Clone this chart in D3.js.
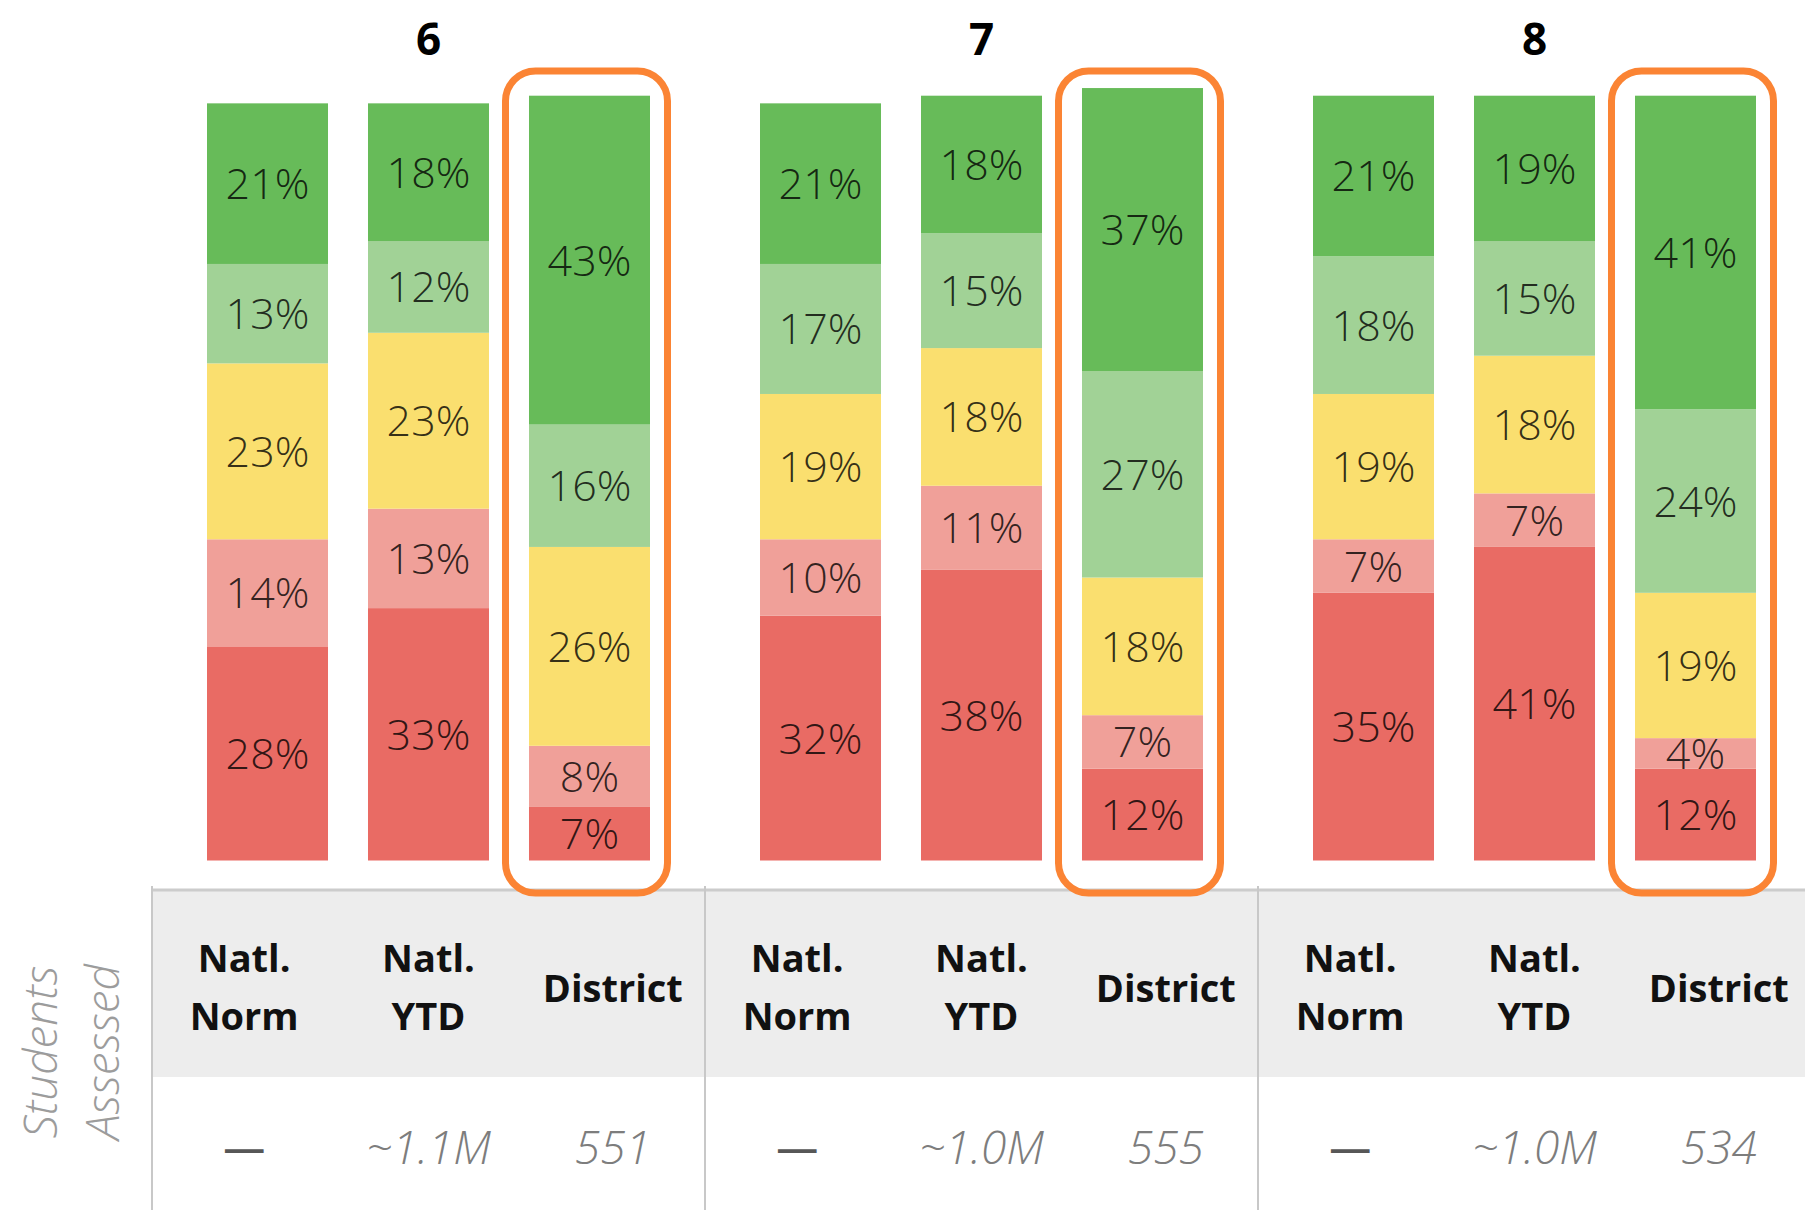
<!DOCTYPE html>
<html>
<head>
<meta charset="utf-8">
<script src="https://cdn.jsdelivr.net/npm/d3@7"></script>
<style>
  html, body { margin: 0; padding: 0; background: #fff; }
  svg { display: block; }
</style>
</head>
<body>
<svg id="chart" width="1805" height="1210"></svg>
<script>
// Grade levels and the three comparison bars inside each grade
const grades = ["6", "7", "8"];
const groups = ["Natl. Norm", "Natl. YTD", "District"];

// Percent of students in each achievement band, per bar
// (order: grade 6 Norm, YTD, District, grade 7 ..., grade 8 ...)
const low   = [28, 33, 7,  32, 38, 12,  35, 41, 12];
const loAvg = [14, 13, 8,  10, 11, 7,   7, 7, 4];
const avg   = [23, 23, 26, 19, 18, 18,  19, 18, 19];
const hiAvg = [13, 12, 16, 17, 15, 27,  18, 15, 24];
const high  = [21, 18, 43, 21, 18, 37,  21, 19, 41];

// Students assessed, per bar
const assessed = ["—", "~1.1M", "551", "—", "~1.0M", "555", "—", "~1.0M", "534"];

const bandKeys = ["low", "loAvg", "avg", "hiAvg", "high"];
const bandColors = ["#e96b64", "#f0a099", "#fadf6f", "#a1d296", "#67bb59"];

const rows = [];
grades.forEach((g, gi) => {
  groups.forEach((grp, bi) => {
    const i = gi * groups.length + bi;
    rows.push({
      grade: g, group: grp, n: assessed[i],
      low: low[i], loAvg: loAvg[i], avg: avg[i], hiAvg: hiAvg[i], high: high[i]
    });
  });
});

const svg = d3.select("#chart");
const W = 1805, H = 1210;
svg.append("rect").attr("width", W).attr("height", H).attr("fill", "#fff");

const tableLeft = 152, groupW = 553;
const x0 = d3.scaleBand().domain(grades).range([tableLeft, tableLeft + groupW * grades.length]);
const xBar = d3.scaleBand().domain(groups).range([55, 498]).paddingInner(0.2484);
const xCol = d3.scaleBand().domain(groups).range([0, groupW]);
const y = d3.scaleLinear().domain([0, 100]).range([860.5, 95.7]);
const color = d3.scaleOrdinal().domain(bandKeys).range(bandColors);

const stack = d3.stack().keys(bandKeys);
const series = stack(rows);

// ---- table area (drawn first so bars / boxes sit on top) ----
const headTop = 890, headBottom = 1077;
svg.append("rect")
  .attr("x", tableLeft).attr("y", headTop)
  .attr("width", W - tableLeft).attr("height", headBottom - headTop)
  .attr("fill", "#ededed");
svg.append("line")
  .attr("x1", tableLeft).attr("x2", W)
  .attr("y1", headTop).attr("y2", headTop)
  .attr("stroke", "#cccccc").attr("stroke-width", 3);
grades.forEach(g => {
  svg.append("line")
    .attr("x1", x0(g)).attr("x2", x0(g))
    .attr("y1", headTop - 4).attr("y2", H)
    .attr("stroke", "#c8c8c8").attr("stroke-width", 2);
});

// ---- stacked bars ----
const barX = d => x0(d.data.grade) + xBar(d.data.group);
const layer = svg.append("g").selectAll("g")
  .data(series).join("g")
  .attr("fill", s => color(s.key));
layer.selectAll("rect")
  .data(s => s).join("rect")
  .attr("x", barX)
  .attr("width", xBar.bandwidth())
  .attr("y", d => y(d[1]))
  .attr("height", d => y(d[0]) - y(d[1]));

// segment value labels
const labelG = svg.append("g")
  .attr("font-family", "'Open Sans', sans-serif")
  .attr("font-size", 43)
  .attr("font-weight", 350)
  .attr("fill", "#000").attr("fill-opacity", 0.8)
  .attr("text-anchor", "middle");
series.forEach(s => {
  labelG.selectAll(null)
    .data(s).join("text")
    .attr("x", d => barX(d) + xBar.bandwidth() / 2)
    .attr("y", d => (y(d[0]) + y(d[1])) / 2)
    .attr("dy", "0.36em")
    .text(d => d.data[s.key] + "%");
});

// grade titles
svg.append("g").selectAll("text")
  .data(grades).join("text")
  .attr("x", g => x0(g) + xBar("Natl. YTD") + xBar.bandwidth() / 2)
  .attr("y", 55)
  .attr("text-anchor", "middle")
  .attr("font-family", "'Open Sans', sans-serif")
  .attr("font-weight", 700)
  .attr("font-size", 44)
  .attr("fill", "#000")
  .text(g => g);

// highlight frames around the district bars
svg.append("g").selectAll("rect")
  .data(grades).join("rect")
  .attr("x", g => x0(g) + xBar("District") + xBar.bandwidth() / 2 - 3 - 81)
  .attr("y", 71)
  .attr("width", 162)
  .attr("height", 822)
  .attr("rx", 30).attr("ry", 30)
  .attr("fill", "none")
  .attr("stroke", "#fb8434")
  .attr("stroke-width", 7);

// ---- header labels ----
const head = svg.append("g")
  .attr("font-family", "'Open Sans', sans-serif")
  .attr("font-weight", 700)
  .attr("font-size", 38)
  .attr("fill", "#111")
  .attr("text-anchor", "middle");
rows.forEach(r => {
  const cx = x0(r.grade) + xCol(r.group) + xCol.bandwidth() / 2;
  const parts = r.group.split(" ");
  if (r.group === "District") {
    head.append("text").attr("x", cx).attr("y", 1002).text(r.group);
  } else {
    head.append("text").attr("x", cx).attr("y", 972).text(parts[0]);
    head.append("text").attr("x", cx).attr("y", 1030).text(parts[1]);
  }
});

// ---- students assessed row ----
const vals = svg.append("g")
  .attr("font-family", "'Open Sans', sans-serif")
  .attr("font-size", 46)
  .attr("text-anchor", "middle");
rows.forEach(r => {
  const cx = x0(r.grade) + xCol(r.group) + xCol.bandwidth() / 2;
  const isDash = r.n === "—";
  vals.append("text")
    .attr("x", cx).attr("y", isDash ? 1162 : 1164)
    .attr("font-style", isDash ? "normal" : "italic")
    .attr("font-weight", isDash ? 600 : 300)
    .attr("font-size", isDash ? 42 : 46)
    .attr("fill", isDash ? "#575757" : "#7d7d7d")
    .text(r.n);
});

// row title, rotated
const rowTitle = svg.append("text")
  .attr("transform", "translate(0,1052) rotate(-90)")
  .attr("font-family", "'Open Sans', sans-serif")
  .attr("font-style", "italic")
  .attr("font-weight", 300)
  .attr("font-size", 46)
  .attr("fill", "#9c9c9c")
  .attr("text-anchor", "middle");
rowTitle.append("tspan").attr("x", 0).attr("y", 57).text("Students");
rowTitle.append("tspan").attr("x", 0).attr("y", 119).text("Assessed");
</script>
</body>
</html>
